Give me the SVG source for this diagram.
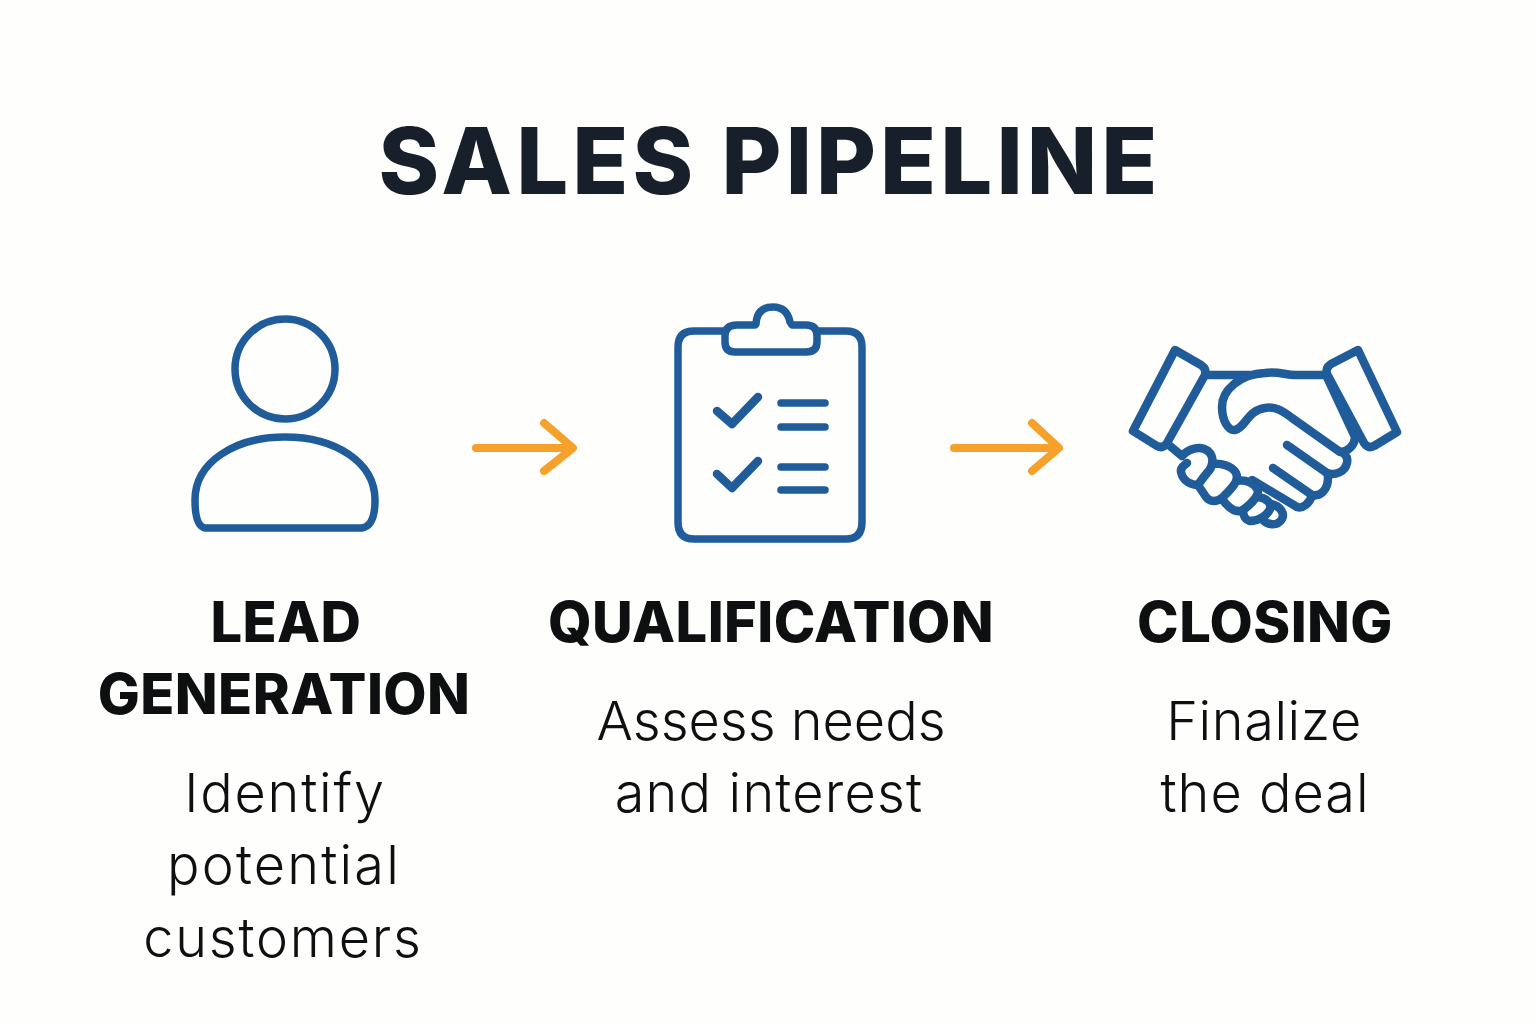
<svg xmlns="http://www.w3.org/2000/svg" width="1536" height="1024" viewBox="0 0 1536 1024">
<style>
.bg{fill:#fefefc}
.ic{fill:none;stroke:#1f5c99;stroke-width:7.5;stroke-linecap:round;stroke-linejoin:round}
#closing .ic{stroke-width:8.5}
.ar{fill:none;stroke:#f5a12b;stroke-width:8;stroke-linecap:round;stroke-linejoin:round}
.t{font-family:"Inter","Liberation Sans",sans-serif;text-anchor:middle;fill:#0e0f11}
.h{font-size:56px;font-weight:800;letter-spacing:.4px}
.d{font-size:54px;font-weight:350}
.title{font-size:92px;font-weight:800;fill:#17202a;letter-spacing:4.1px}
</style>
<rect class="bg" width="1536" height="1024"/>
<text id="title" class="t title" x="770" y="194">SALES PIPELINE</text>
<g id="connectors">
<path class="ar" d="M476 448H571M544 423L573 448L544 471"/>
<path class="ar" d="M954 448H1058M1032 423L1059 448L1032 471"/>
</g>
<g id="lead">
<circle class="ic" cx="285" cy="369" r="50"/>
<path class="ic" d="M205 528H362Q375 526 375 500C375 462 335 437 285 437C235 437 195 462 195 500Q195 526 205 528Z"/>
<text class="t h" x="286" y="642">LEAD</text>
<text class="t h" x="284" y="714">GENERATION</text>
<text class="t d" style="letter-spacing:1.8px" x="285" y="812">Identify</text>
<text class="t d" style="letter-spacing:2.2px" x="284" y="884">potential</text>
<text class="t d" style="letter-spacing:1.8px" x="283" y="957">customers</text>
</g>
<g id="qualification">
<path class="ic" d="M725 331H694Q678 331 678 347V522Q678 539 694 539H846Q862 539 862 522V347Q862 331 846 331H817"/>
<path class="ic" d="M756 324Q757 307 773 307Q787 307 790 322L792 325H806Q817 325 817 336V342Q817 352 806 352H735Q725 352 725 342V336Q725 325 737 325H755Z"/>
<path class="ic" style="stroke-width:8.5" d="M717 411L732 424L758 397"/>
<path class="ic" style="stroke-width:8.5" d="M717 474L732 488L758 461"/>
<path class="ic" d="M781 403H825M781 427H825M781 467H825M781 490H825"/>
<text class="t h" x="771" y="642">QUALIFICATION</text>
<text class="t d" x="771" y="740">Assess needs</text>
<text class="t d" style="letter-spacing:1.2px" x="769" y="812">and interest</text>
</g>
<g id="closing">
<path class="ic" d="M1175 350L1201 365Q1207 369 1205 375L1167 443Q1163 449 1157 446L1133 431Z"/>
<path class="ic" d="M1358 350L1331 364Q1325 368 1327 374L1364 443Q1368 449 1374 446L1397 432Z"/>
<path class="ic" d="M1207 375H1250M1325 375H1295C1285 375 1278 371 1265 373C1240 374 1222 390 1222 407C1222 420 1228 431 1235 430C1245 428 1248 410 1265 408C1275 406 1283 411 1292 418L1340 452C1348 452 1355 445 1355 437L1326 375"/>
<path class="ic" d="M1287 445L1327 473C1335 476 1345 472 1347 463C1348 458 1346 455 1343 453"/>
<path class="ic" d="M1273 468L1312 495C1320 497 1328 490 1328 478Q1328 475 1327 473"/>
<path class="ic" d="M1252 480L1297 507C1303 509 1310 503 1312 495"/>
<path class="ic" d="M1170 446L1182 456C1188 449 1200 445 1208 451C1215 457 1213 467 1207 473C1203 478 1200 482 1198 485C1192 485 1183 482 1181 472C1180 467 1185 465 1187 463"/>
<path class="ic" d="M1212 464C1222 463 1232 466 1236 473C1240 481 1230 490 1222 498C1215 503 1209 501 1206 497L1198 485"/>
<path class="ic" d="M1237 481C1245 479 1255 483 1258 491C1258 497 1250 505 1243 510C1237 513 1230 510 1222 499"/>
<path class="ic" d="M1258 497C1266 498 1272 503 1270 509C1267 516 1258 521 1250 521C1245 520 1243 515 1243 510"/>
<path class="ic" d="M1271 504C1280 506 1285 513 1282 519C1278 526 1268 526 1262 519"/>
<text class="t h" x="1265" y="642">CLOSING</text>
<text class="t d" style="letter-spacing:.6px" x="1264" y="740">Finalize</text>
<text class="t d" style="letter-spacing:1px" x="1265" y="812">the deal</text>
</g>
</svg>
